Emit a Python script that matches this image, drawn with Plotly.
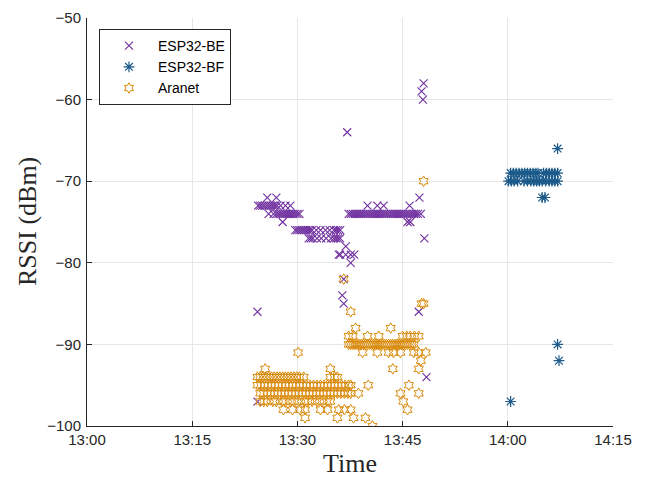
import datetime as dt
import plotly.graph_objects as go

# ---- data (minutes after 13:00, RSSI in dBm) ----
be_min = [24.3, 24.3,
          25.7, 27.0,
          24.4, 24.7, 25.0, 25.3, 25.6, 25.9, 26.2, 26.5, 26.8, 27.1, 27.6, 28.3, 29.0,
          25.9, 26.6, 27.0, 27.3, 27.6, 27.9, 28.2, 28.5, 28.8, 29.1, 29.4, 29.7, 30.0, 30.3,
          27.9,
          29.7, 30.0, 30.3, 30.6, 30.9, 31.2, 31.5, 31.8, 32.1, 32.7, 33.3, 34.0, 34.6, 35.2, 35.5, 35.8, 36.1,
          31.6, 31.9, 32.2, 32.8, 33.4, 34.1, 34.8, 35.2, 35.5, 35.8, 36.1,
          36.9,
          35.9, 36.1, 36.9, 37.6, 38.1,
          37.6, 36.6, 36.4, 36.6, 37.1,
          37.3, 37.6, 37.9, 38.2, 38.5, 38.8, 39.1, 39.4, 39.7, 40.0, 40.3, 40.6, 40.9, 41.2, 41.5,
          41.8, 42.1, 42.4, 42.7, 43.0, 43.3, 43.6, 43.9, 44.2, 44.5, 44.8, 45.1, 45.4, 45.7, 46.0,
          46.3, 46.6, 46.9, 47.2, 47.6,
          40.0, 41.4, 42.3, 46.0,
          47.4, 45.7, 46.1, 48.1, 48.0, 47.7, 47.9, 47.3, 48.4]
be_rssi = [-86, -97,
           -72, -72,
           -73, -73, -73, -73, -73, -73, -73, -73, -73, -73, -73, -73, -73,
           -74, -74, -74, -74, -74, -74, -74, -74, -74, -74, -74, -74, -74, -74,
           -75,
           -76, -76, -76, -76, -76, -76, -76, -76, -76, -76, -76, -76, -76, -76, -76, -76, -76,
           -77, -77, -77, -77, -77, -77, -77, -77, -77, -77, -77,
           -78,
           -79, -79, -79, -79, -79,
           -80, -82, -84, -85, -64,
           -74, -74, -74, -74, -74, -74, -74, -74, -74, -74, -74, -74, -74, -74, -74,
           -74, -74, -74, -74, -74, -74, -74, -74, -74, -74, -74, -74, -74, -74, -74,
           -74, -74, -74, -74, -74,
           -73, -73, -73, -73,
           -72, -75, -75, -77, -58, -59, -60, -86, -94]

bf_min = [67.1,
          60.4, 60.8, 61.2, 61.6, 62.0, 62.4, 62.8, 63.2, 63.6, 64.0, 64.3,
          65.1, 65.5, 65.9, 66.3, 66.7, 67.1,
          60.1, 60.5, 60.9, 61.4, 62.3, 62.8, 63.3, 63.7, 64.1, 64.5, 64.9, 65.4,
          65.9, 66.3, 66.7, 67.1,
          64.9, 65.3,
          67.1, 67.3, 60.4]
bf_rssi = [-66,
           -69, -69, -69, -69, -69, -69, -69, -69, -69, -69, -69,
           -69, -69, -69, -69, -69, -69,
           -70, -70, -70, -70, -70, -70, -70, -70, -70, -70, -70, -70,
           -70, -70, -70, -70,
           -72, -72,
           -90, -92, -97]

ar_min = [48.0, 47.7, 48.0, 36.6, 37.6, 38.3, 43.3,
          37.3, 37.9, 40.0, 41.6, 45.0, 45.6, 46.1, 46.7, 47.3,
          37.3, 37.6, 37.9, 38.2, 38.5, 38.8, 39.1, 39.4, 39.7, 40.0, 40.3, 40.6, 40.9, 41.2, 41.5, 41.8,
          42.1, 42.4, 42.7, 43.0, 43.3, 43.6, 43.9, 44.2, 44.5, 44.8, 45.1, 45.4, 45.7, 46.0, 46.3, 46.6,
          30.1, 39.3, 41.4, 43.0, 43.7, 44.7, 46.6, 47.3, 48.3,
          47.6,
          25.4, 34.7, 43.6, 47.3,
          24.3, 24.7, 25.1, 25.5, 25.9, 26.3, 26.7, 27.1, 27.5, 27.9, 28.3, 28.7, 29.1, 29.5, 29.9, 30.3,
          30.9, 34.7, 35.3, 35.7,
          24.3, 24.8, 25.3, 25.8, 26.3, 26.8, 27.3, 27.8, 28.3, 28.8, 29.3, 29.8, 30.3, 30.8, 31.3, 31.8,
          32.3, 32.8, 33.3, 33.8, 34.3, 34.8, 35.3, 35.8, 36.3, 36.8, 37.3, 37.6, 40.1, 45.9,
          24.7, 25.2, 25.7, 26.2, 26.7, 27.2, 27.7, 28.2, 28.7, 29.2, 29.7, 30.2, 30.7, 31.2, 31.7, 32.2,
          32.7, 33.2, 33.7, 34.2, 34.7, 35.2, 35.7, 36.2, 36.7, 37.2, 37.6, 38.7, 44.7, 47.3,
          24.7, 25.2, 25.7, 26.5, 27.0, 27.8, 28.3, 29.0, 29.6, 30.2, 31.0, 31.5, 32.1, 32.8, 33.5, 34.2,
          34.7, 45.1,
          28.0, 29.3, 30.4, 31.1, 33.3, 34.3, 35.9, 36.7, 37.6, 45.7,
          31.1, 35.7, 38.0, 39.7,
          40.7]
ar_rssi = [-70, -85, -85, -82, -86, -88, -88,
           -89, -89, -89, -89, -89, -89, -89, -89, -89,
           -90, -90, -90, -90, -90, -90, -90, -90, -90, -90, -90, -90, -90, -90, -90, -90,
           -90, -90, -90, -90, -90, -90, -90, -90, -90, -90, -90, -90, -90, -90, -90, -90,
           -91, -91, -91, -91, -91, -91, -91, -91, -91,
           -92,
           -93, -93, -93, -93,
           -94, -94, -94, -94, -94, -94, -94, -94, -94, -94, -94, -94, -94, -94, -94, -94,
           -94, -94, -94, -94,
           -95, -95, -95, -95, -95, -95, -95, -95, -95, -95, -95, -95, -95, -95, -95, -95,
           -95, -95, -95, -95, -95, -95, -95, -95, -95, -95, -95, -95, -95, -95,
           -96, -96, -96, -96, -96, -96, -96, -96, -96, -96, -96, -96, -96, -96, -96, -96,
           -96, -96, -96, -96, -96, -96, -96, -96, -96, -96, -96, -96, -96, -96,
           -97, -97, -97, -97, -97, -97, -97, -97, -97, -97, -97, -97, -97, -97, -97, -97,
           -97, -97,
           -98, -98, -98, -98, -98, -98, -98, -98, -98, -98,
           -99, -99, -99, -99,
           -100]

tick_labels = ["13:00", "13:15", "13:30", "13:45", "14:00", "14:15"]
y_ticks = [-100, -90, -80, -70, -60, -50]

base = dt.datetime(2023, 1, 1, 13, 0, 0)
def to_time(mins):
    return [base + dt.timedelta(minutes=m) for m in mins]

tick_vals = [base + dt.timedelta(minutes=15 * i) for i in range(len(tick_labels))]

C_BE = "#7030A0"
C_BF = "#1B5A8A"
C_AR = "#D98A0A"

fig = go.Figure()
fig.add_trace(go.Scatter(x=to_time(be_min), y=be_rssi, mode="markers", name="ESP32-BE",
                         marker=dict(symbol="x-thin-open", size=8, color=C_BE,
                                     line=dict(width=1.1, color=C_BE))))
fig.add_trace(go.Scatter(x=to_time(bf_min), y=bf_rssi, mode="markers", name="ESP32-BF",
                         marker=dict(symbol="asterisk-open", size=9, color=C_BF,
                                     line=dict(width=1.2, color=C_BF))))
fig.add_trace(go.Scatter(x=to_time(ar_min), y=ar_rssi, mode="markers", name="Aranet",
                         marker=dict(symbol="hexagram-open", size=8, color=C_AR,
                                     line=dict(width=1, color=C_AR))))

axis_common = dict(showgrid=True, gridcolor="#E6E6E6", gridwidth=1,
                   showline=True, linecolor="#262626", linewidth=1,
                   ticks="inside", ticklen=5, tickcolor="#262626",
                   tickfont=dict(family="Liberation Sans", size=15, color="#262626"),
                   ticklabeloverflow="allow",
                   zeroline=False, automargin=False)

# page body has an 8px margin, so the figure is 8px smaller and shifted
fig.update_layout(
    width=640, height=472,
    margin=dict(l=79, r=35, t=10, b=54),
    paper_bgcolor="white", plot_bgcolor="white",
    xaxis=dict(range=[tick_vals[0], tick_vals[-1]], tickvals=tick_vals, ticktext=tick_labels,
               **axis_common),
    yaxis=dict(range=[-100, -50], tickvals=y_ticks, ticklabelstandoff=2,
               **axis_common),
    legend=dict(x=0.0228, y=0.973, xanchor="left", yanchor="top",
                bgcolor="white", bordercolor="#262626", borderwidth=1,
                itemwidth=48, tracegroupgap=0,
                font=dict(family="Liberation Sans", size=14, color="#000000")),
    annotations=[
        dict(text="Time", xref="paper", yref="paper", x=0.5, y=-0.1324,
             xanchor="center", yanchor="bottom", showarrow=False,
             font=dict(family="Liberation Serif", size=26, color="#262626")),
        dict(text="RSSI (dBm)", xref="paper", yref="paper", x=-0.114, y=0.5,
             xanchor="center", yanchor="middle", showarrow=False, textangle=-90,
             font=dict(family="Liberation Serif", size=26, color="#262626")),
    ],
)

fig.write_html("out.html")
